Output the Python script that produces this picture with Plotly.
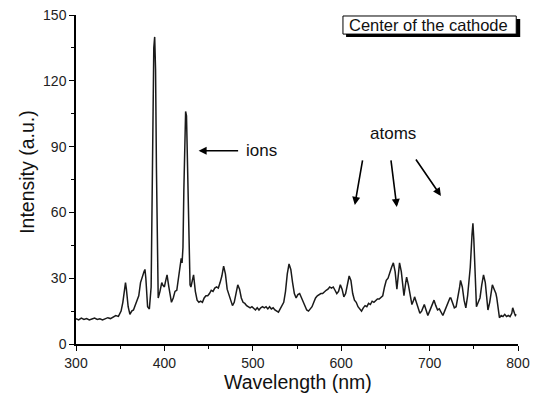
import plotly.graph_objects as go

wavelength = [300, 303, 306, 309, 312, 315, 318, 321, 324, 327, 330, 333, 336, 339, 342, 345, 348,
              351, 353, 355, 356, 357, 359, 361, 363, 365, 367, 369, 371, 373, 375, 377, 378, 379,
              381, 383, 385, 386, 387, 388, 389, 390, 391, 392, 393, 395, 397, 398, 400, 401, 403,
              405, 407, 408, 410, 412, 414, 416, 418, 419, 420, 421, 422, 423, 424, 425, 426, 427,
              428, 429, 430, 432, 433, 435, 437, 439, 441, 443, 445, 447, 449, 451, 453, 455, 457,
              459, 461, 463, 465, 467, 469, 471, 473, 475, 477, 479, 481, 483, 485, 487, 489, 491,
              493, 495, 497, 499, 501, 503, 505, 507, 509, 511, 513, 515, 517, 519, 521, 523, 525,
              527, 529, 531, 533, 535, 537, 539, 541, 543, 545, 547, 549, 551, 553, 555, 557, 559,
              561, 563, 565, 567, 569, 571, 573, 575, 577, 579, 581, 583, 585, 587, 589, 591, 593,
              595, 597, 599, 601, 603, 605, 607, 609, 611, 613, 615, 617, 619, 621, 623, 625, 627,
              629, 631, 633, 635, 637, 639, 641, 643, 645, 647, 649, 651, 653, 655, 657, 659, 661,
              663, 665, 666, 668, 670, 671, 673, 674, 676, 678, 680, 682, 683, 685, 687, 689, 691,
              693, 694, 696, 698, 700, 702, 704, 705, 707, 709, 711, 713, 715, 717, 719, 721, 723,
              724, 726, 728, 730, 732, 734, 735, 737, 739, 741, 743, 744, 746, 748, 749, 750, 752,
              753, 755, 757, 759, 761, 763, 765, 766, 768, 770, 771, 773, 775, 776, 778, 779, 781,
              783, 785, 787, 789, 791, 793, 794, 796, 797, 798]
intensity = [11.5, 11, 11.8, 11.2, 11.6, 11, 11.4, 11.8, 11.2, 11.5, 11, 11.6, 12, 11.6, 12.4, 13, 12.6,
             15, 19, 26, 28, 25, 17, 13.5, 15, 15.5, 18, 20, 22, 28, 31, 33, 34, 30,
             17, 16, 26, 60, 110, 135, 140, 125, 80, 30, 21, 24, 28, 27, 26, 28, 31.5,
             26, 19.5, 19, 21, 24, 24.5, 30, 36, 39, 37, 44, 70, 95, 106, 104, 85, 55,
             33, 27, 26, 30, 31.5, 24, 20, 19, 19.5, 19, 21, 22, 22, 23, 24.5, 24, 25.5,
             26, 25.5, 28, 31, 35.5, 32, 25, 22, 20, 17.5, 19, 23, 27, 25, 21, 19, 18.5,
             17.5, 17, 16.5, 17, 16, 15.5, 16.5, 15.5, 16.5, 17, 16.5, 17, 16, 17, 16, 16.5, 15.5,
             15, 14.5, 16, 17.5, 19, 24, 32, 36.5, 34, 28, 23, 21, 22.5, 23, 21, 19, 17,
             15.5, 15, 16, 17, 19, 21, 22, 22.5, 23, 23, 24, 24.5, 25, 26, 25.5, 26, 24.5,
             23, 24, 27, 25, 21.5, 23, 28, 31, 29, 23, 20, 19, 17, 16, 15, 16.5, 17.5,
             17, 18.5, 18, 19.5, 19, 20, 20.5, 20.5, 21.5, 22, 26, 29, 30, 33, 35, 37, 33,
             25, 33, 37, 33, 26, 22, 28, 30.5, 27, 22, 18, 20, 21.5, 19, 16.5, 14, 15,
             17.5, 18, 15.5, 13, 15, 17, 19, 20, 17.5, 15.5, 16, 14.5, 13, 15, 17, 19.5, 21,
             21, 19, 16.5, 17, 21, 26, 29, 26, 20, 16.5, 22, 26, 35, 50, 55, 48, 28,
             17, 19, 21, 27, 31.5, 28, 19, 15.5, 19, 25, 27, 25, 23, 21, 14, 12, 13,
             12.5, 13.5, 12.5, 13, 12.5, 14, 16.5, 14, 13, 13.5]

x_ticks = [300, 400, 500, 600, 700, 800]
y_ticks = [0, 30, 60, 90, 120, 150]
box_label = "Center of the cathode"
ion_label = "ions"
atom_label = "atoms"
x_title = "Wavelength (nm)"
y_title = "Intensity (a.u.)"

FONT = "Liberation Sans, Arial, sans-serif"
INK = "#111111"

fig = go.Figure()
fig.add_trace(go.Scatter(x=wavelength, y=intensity, mode="lines",
                         line=dict(color="#1a1a1a", width=1.5), showlegend=False,
                         hoverinfo="skip"))

axis_common = dict(showgrid=False, zeroline=False, showline=True, linecolor="black",
                   linewidth=1.5, ticks="outside", ticklen=5, tickwidth=1.3,
                   tickcolor="black", mirror=False, automargin=False,
                   tickfont=dict(family=FONT, size=14, color="#222222"))

fig.update_xaxes(range=[300, 800], tickvals=x_ticks,
                 minor=dict(ticks="outside", ticklen=3, tickwidth=1.2, tickcolor="black", dtick=50),
                 **axis_common)
fig.update_yaxes(range=[0, 150], tickvals=y_ticks,
                 minor=dict(ticks="outside", ticklen=3, tickwidth=1.2, tickcolor="black", dtick=15),
                 **axis_common)

# axis titles
fig.add_annotation(xref="paper", yref="paper", x=0.502, y=-0.116, text=x_title, showarrow=False,
                   font=dict(family=FONT, size=19.5, color=INK), xanchor="center", yanchor="middle")
fig.add_annotation(xref="paper", yref="paper", x=-0.111, y=0.523, text=y_title, showarrow=False,
                   textangle=-90, font=dict(family=FONT, size=19.5, color=INK),
                   xanchor="center", yanchor="middle")

# legend-like label box with shadow
fig.add_shape(type="rect", xref="paper", yref="paper", x0=0.611, x1=1.005, y0=0.933, y1=0.988,
              fillcolor="black", line=dict(width=0), layer="above")
fig.add_shape(type="rect", xref="paper", yref="paper", x0=0.604, x1=0.996, y0=0.942, y1=0.997,
              fillcolor="white", line=dict(color="black", width=1), layer="above")
fig.add_annotation(xref="paper", yref="paper", x=0.797, y=0.9695, text=box_label,
                   showarrow=False, font=dict(family=FONT, size=16.5, color=INK),
                   xanchor="center", yanchor="middle")

# ions arrow and label
fig.add_annotation(x=438.7, y=88.1, ax=41, ay=0, text="", showarrow=True,
                   arrowhead=2, arrowsize=1, arrowwidth=1.6, arrowcolor="black")
fig.add_annotation(x=438.7, y=88.1, xshift=63, text=ion_label, showarrow=False,
                   font=dict(family=FONT, size=17, color=INK), xanchor="center", yanchor="middle")

# atoms label and arrows
fig.add_annotation(x=659, y=96, text=atom_label, showarrow=False,
                   font=dict(family=FONT, size=17, color=INK), xanchor="center", yanchor="middle")
fig.add_annotation(x=615.4, y=63.4, ax=8, ay=-46, text="", showarrow=True,
                   arrowhead=2, arrowsize=1, arrowwidth=1.6, arrowcolor="black")
fig.add_annotation(x=662.9, y=62.5, ax=-6, ay=-48, text="", showarrow=True,
                   arrowhead=2, arrowsize=1, arrowwidth=1.6, arrowcolor="black")
fig.add_annotation(x=712.8, y=67.5, ax=-26, ay=-38, text="", showarrow=True,
                   arrowhead=2, arrowsize=1, arrowwidth=1.6, arrowcolor="black")

fig.update_layout(width=533, height=399, margin=dict(l=76, r=15, t=15, b=55),
                  paper_bgcolor="white", plot_bgcolor="white",
                  font=dict(family=FONT, color=INK))

fig.write_html("out.html", config={"displayModeBar": False},
               post_script="document.body.style.margin='0';")
